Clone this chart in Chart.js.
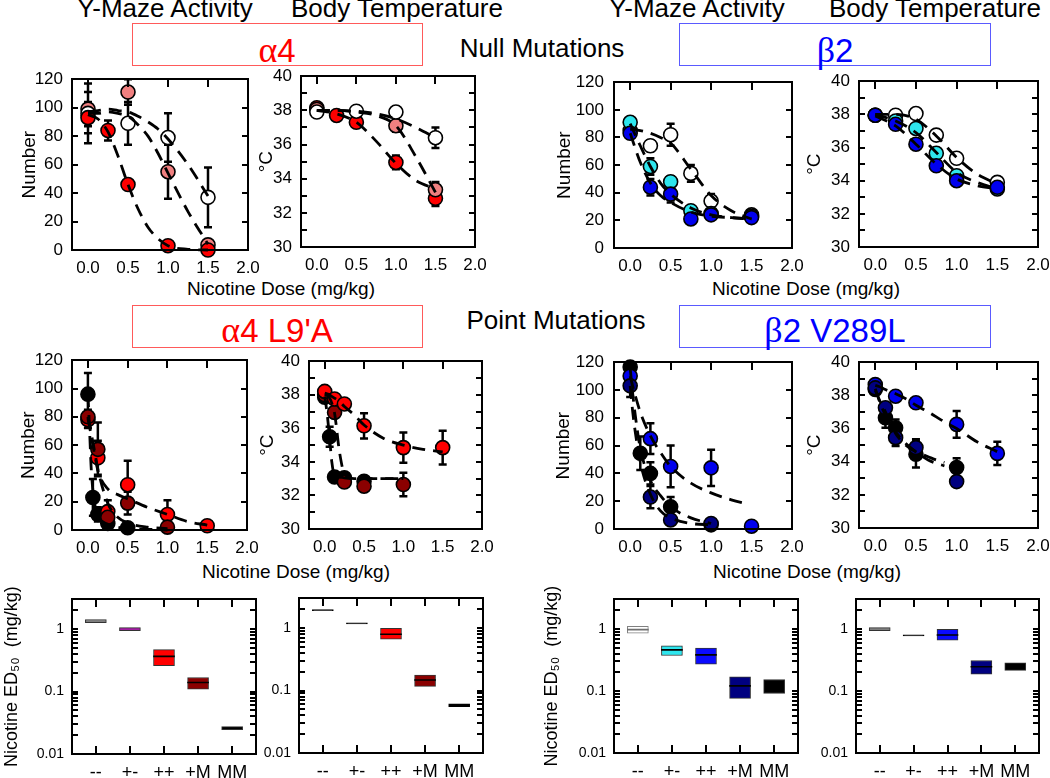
<!DOCTYPE html>
<html>
<head>
<meta charset="utf-8">
<title>Nicotine dose response</title>
<script src="https://cdn.jsdelivr.net/npm/chart.js@4.4.1/dist/chart.umd.min.js"></script>
<style>
  body { margin: 0; width: 1050px; height: 778px; position: relative; overflow: hidden; background: #fff;
         font-family: "Liberation Sans", Arial, sans-serif; color: #000; }
  canvas { position: absolute; }
  .lbl { position: absolute; white-space: nowrap; line-height: 1; transform: translateX(-50%); }
  .head { font-size: 26px; }
  .xt { font-size: 19px; }
  .gene { font-size: 33px; }
  .sym { font-family: "Liberation Serif", "DejaVu Serif", serif; font-size: 36px; }
  .frame { position: absolute; box-sizing: border-box; }
</style>
</head>
<body>
<div class="lbl head" style="left:165px;top:-5px">Y-Maze Activity</div>
<div class="lbl head" style="left:397px;top:-5px">Body Temperature</div>
<div class="lbl head" style="left:697px;top:-5px">Y-Maze Activity</div>
<div class="lbl head" style="left:935px;top:-5px">Body Temperature</div>

<div class="frame" style="left:132px;top:23px;width:291px;height:43px;border:1px solid #ff5a5a"></div>
<div class="frame" style="left:679px;top:23px;width:312px;height:43px;border:1px solid #5a5aff"></div>
<div class="lbl gene" style="left:277px;top:32px;color:#ff0000"><span class="sym">α</span>4</div>
<div class="lbl head" style="left:542px;top:35px">Null Mutations</div>
<div class="lbl gene" style="left:835px;top:32px;color:#0000ff"><span class="sym">β</span>2</div>
<div class="lbl xt" style="left:281px;top:279px">Nicotine Dose (mg/kg)</div>
<div class="lbl xt" style="left:806px;top:279px">Nicotine Dose (mg/kg)</div>

<div class="frame" style="left:132px;top:305px;width:291px;height:43px;border:1px solid #ff5a5a"></div>
<div class="frame" style="left:679px;top:305px;width:312px;height:43px;border:1px solid #5a5aff"></div>
<div class="lbl gene" style="left:277px;top:312px;color:#ff0000"><span class="sym">α</span>4 L9'A</div>
<div class="lbl head" style="left:556px;top:307px">Point Mutations</div>
<div class="lbl gene" style="left:835px;top:312px;color:#0000ff"><span class="sym">β</span>2 V289L</div>
<div class="lbl xt" style="left:296px;top:562px">Nicotine Dose (mg/kg)</div>
<div class="lbl xt" style="left:807px;top:562px">Nicotine Dose (mg/kg)</div>

<script>
// ---------- data ----------
const doseTicks = [0, 0.5, 1.0, 1.5, 2.0];
const numberTicks = [0, 20, 40, 60, 80, 100, 120];
const tempTicks = [30, 31, 32, 33, 34, 35, 36, 37, 38, 39, 40];

// alpha4 null, Y-maze
const p1Dose = [0, 0.25, 0.5, 1.0, 1.5];
const p1Wt = [96, null, 89, 79, 37];
const p1WtErr = [21, null, 15, 17, 21];
const p1Het = [99, null, 111, 55, 3.6];
const p1HetErr = [12, null, 9, 19, 0];
const p1Ko = [93, 84, 46, 3, 0];
const p1KoErr = [11, 7, 0, 0, 0];
const p1FitDose = [0, 0.125, 0.25, 0.375, 0.5, 0.625, 0.75, 0.875, 1.0, 1.25, 1.5];
const p1WtFit = [97, 98, 99, 98, 97, 94, 90, 85, 78, 60, 38];
const p1HetFit = [96, 96, 97, 96, 94, 88, 80, 68, 54, 27, 4];
const p1KoFit = [95, 92, 83, 66, 46, 29, 16, 8, 3, 0.5, 0];

// alpha4 null, body temperature
const p2Dose = [0, 0.25, 0.5, 1.0, 1.5];
const p2Wt = [37.9, null, 37.95, 37.9, 36.4];
const p2WtErr = [0.1, null, 0.1, 0.3, 0.6];
const p2Het = [38.05, null, null, 37.1, 33.35];
const p2HetErr = [0.1, null, null, 0.35, 0.45];
const p2Ko = [38.15, 37.7, 37.3, 34.95, 32.85];
const p2KoErr = [0.1, 0.1, 0.15, 0.4, 0.45];
const p2FitDose = [0, 0.25, 0.5, 0.75, 1.0, 1.25, 1.5];
const p2WtFit = [38.0, 38.0, 37.95, 37.8, 37.5, 37.0, 36.4];
const p2HetFit = [38.0, 38.0, 37.9, 37.7, 37.1, 35.3, 33.2];
const p2KoFit = [38.0, 37.8, 37.3, 36.2, 34.9, 33.9, 33.4];

// beta2 null, Y-maze
const p3Dose = [0, 0.25, 0.5, 0.75, 1.0, 1.5];
const p3Wt = [85, 74, 82, 54, 34, 24];
const p3WtErr = [5, 4, 8, 6, 5, 3];
const p3Het = [91, 59, 48, 27, 25, 23];
const p3HetErr = [3, 6, 4, 3, 3, 2];
const p3Ko = [83, 44, 39, 21, 24, 22];
const p3KoErr = [4, 6, 6, 3, 3, 2];
const p3FitDose = [0, 0.125, 0.25, 0.375, 0.5, 0.75, 1.0, 1.25, 1.5];
const p3WtFit = [86, 85, 83, 80, 76, 57, 38, 27, 21];
const p3HetFit = [90, 74, 59, 47, 39, 29, 24, 22, 21];
const p3KoFit = [83, 62, 47, 38, 33, 26, 23, 22, 21];

// beta2 null, body temperature
const p4Dose = [0, 0.25, 0.5, 0.75, 1.0, 1.5];
const p4Wt = [37.95, 37.95, 38.05, 36.75, 35.35, 33.9];
const p4WtErr = [0.1, 0.15, 0.15, 0.2, 0.2, 0.2];
const p4Het = [37.95, 37.6, 37.15, 35.65, 34.3, 33.5];
const p4HetErr = [0.1, 0.15, 0.15, 0.2, 0.2, 0.2];
const p4Ko = [37.95, 37.4, 36.2, 34.9, 34.0, 33.6];
const p4KoErr = [0.1, 0.15, 0.2, 0.2, 0.25, 0.2];
const p4FitDose = [0, 0.25, 0.5, 0.75, 1.0, 1.25, 1.5];
const p4WtFit = [38.0, 38.0, 37.7, 36.7, 35.4, 34.4, 33.8];
const p4HetFit = [38.0, 37.6, 36.9, 35.7, 34.5, 33.9, 33.5];
const p4KoFit = [37.9, 37.3, 36.2, 35.0, 34.1, 33.7, 33.5];

// alpha4 L9'A, Y-maze
const p5Dose = [0, 0.0625, 0.125, 0.25, 0.5, 1.0, 1.5];
const p5Mm = [96, 23, 11, 4.6, 1.6, null, null];
const p5MmErr = [15, 13, 5, 3, 1, null, null];
const p5Red = [78, null, 51, 13, 32, 11, 3];
const p5RedErr = [6, null, 12, 8, 17, 10, 1];
const p5Dark = [80, null, 57, 9, 19, 2, null];
const p5DarkErr = [5, null, 19, 5, 8, 1, null];
const p5FitDose = [0, 0.02, 0.04, 0.0625, 0.09, 0.125, 0.25, 0.375, 0.5, 0.75, 1.0, 1.25, 1.5];
const p5MmFit = [96, 72, 45, 28, 17, 10, 4, 2, 1, 0.5, 0, null, null];
const p5RedFit = [79, 73, 67, 60, 52, 42, 29, 25, 22, 16, 11, 6, 3.5];
const p5DarkFit = [80, 75, 69, 62, 54, 43, 19, 9, 5, 2, 1, null, null];

// alpha4 L9'A, body temperature
const p6Dose = [0, 0.0625, 0.125, 0.25, 0.5, 1.0, 1.5];
const p6Red = [38.2, null, 37.75, 37.45, 36.15, 34.85, 34.85];
const p6RedErr = [0.1, null, 0.2, 0.15, 0.75, 0.9, 1.0];
const p6Dark = [38.0, null, 36.95, 32.8, 32.55, 32.65, null];
const p6DarkErr = [0.1, null, 0.3, 0.2, 0.3, 0.7, null];
const p6Mm = [37.85, 35.5, 33.1, 33.05, 32.85, null, null];
const p6MmErr = [0.1, 0.6, 0.2, 0.2, 0.2, null, null];
const p6FitDose = [0, 0.03, 0.0625, 0.09, 0.125, 0.1875, 0.25, 0.375, 0.5, 0.75, 1.0, 1.25, 1.5];
const p6RedFit = [38.1, 38.05, 38.0, 37.9, 37.8, 37.6, 37.3, 36.8, 36.2, 35.4, 35.0, 34.75, 34.6];
const p6DarkFit = [38.0, 37.95, 37.8, 37.5, 36.9, 34.6, 33.3, 33.0, 33.0, 33.0, 33.0, null, null];
const p6MmFit = [37.9, 36.9, 35.4, 34.0, 33.2, 33.1, 33.05, 33.0, 33.0, 33.0, 33.0, null, null];

// beta2 V289L, Y-maze
const p7Dose = [0, 0.125, 0.25, 0.5, 1.0, 1.5];
const p7Blue = [110, null, 65, 45, 44, 2];
const p7BlueErr = [8, null, 11, 15, 13, 1];
const p7Mm = [116.5, 54.5, 40, 16, 3, null];
const p7MmErr = [3, 12, 8, 7, 2, null];
const p7Navy = [103, null, 23, 6.5, 4, null];
const p7NavyErr = [8, null, 8, 3, 2, null];
const p7FitDose = [0, 0.03, 0.0625, 0.125, 0.25, 0.375, 0.5, 0.75, 1.0, 1.25, 1.45];
const p7BlueFit = [110, 103, 96, 84, 67, 55, 45, 33, 26, 21, 18];
const p7MmFit = [116, 98, 82, 58, 35, 24, 16, 8, 4, null, null];
const p7NavyFit = [103, 85, 70, 48, 25, 13, 8, 4, 3, null, null];

// beta2 V289L, body temperature
const p8Dose = [0, 0.125, 0.25, 0.5, 1.0, 1.5];
const p8Blue = [38.65, null, 37.95, 37.55, 36.25, 34.5];
const p8BlueErr = [0.1, null, 0.15, 0.15, 0.8, 0.7];
const p8Navy = [38.45, 37.25, 35.45, 34.85, 32.8, null];
const p8NavyErr = [0.1, 0.2, 0.5, 0.5, 0.2, null];
const p8Mm = [38.35, 36.65, 36.05, 34.45, 33.65, null];
const p8MmErr = [0.1, 0.6, 0.5, 0.8, 0.55, null];
const p8FitDose = [0, 0.0625, 0.125, 0.25, 0.375, 0.5, 0.65, 0.75, 0.85, 1.0, 1.25, 1.5];
const p8BlueFit = [38.6, 38.5, 38.35, 38.1, 37.8, 37.4, 37.0, 36.7, 36.4, 36.0, 35.2, 34.6];
const p8MmFit = [38.4, 37.5, 36.8, 35.8, 35.1, 34.6, 34.1, 33.9, 33.75, null, null, null];
const p8NavyFit = [38.3, 37.6, 37.0, 35.7, 35.0, 34.6, 34.3, 34.1, 33.95, null, null, null];

// ED50 panels (box = low..high, line = median)
const genotypes = ['--', '+-', '++', '+M', 'MM'];
const edMajor = [0.01, 0.1, 1];
const edMinorSteps = [2, 3, 4, 5, 6, 7, 8, 9];
const a4YmLo = [1.27, 0.95, 0.26, 0.109, 0.0245];
const a4YmHi = [1.43, 1.06, 0.47, 0.168, 0.0275];
const a4YmMed = [null, null, 0.367, 0.14, null];
const a4TLo = [1.9, 1.17, 0.667, 0.117, 0.0555];
const a4THi = [1.98, 1.22, 0.99, 0.178, 0.0612];
const a4TMed = [null, null, 0.80, 0.148, null];
const b2YmLo = [0.86, 0.374, 0.272, 0.076, 0.091];
const b2YmHi = [1.1, 0.535, 0.49, 0.169, 0.153];
const b2YmMed = [0.975, 0.46, 0.383, 0.121, null];
const b2TLo = [0.94, 0.775, 0.66, 0.186, 0.215];
const b2THi = [1.05, 0.805, 0.99, 0.31, 0.285];
const b2TMed = [null, null, 0.80, 0.246, null];

// ---------- colours ----------
const RED = '#ff0000', PINK = '#f08080', WHITE = '#ffffff', CYAN = '#2ee6ee', BLUE = '#0000ee',
      NAVY = '#000080', MAROON = '#8b0000', BLACK = '#000000', GREY = '#7f7f7f', PURPLE = '#a41ea4';

// ---------- layout (plot areas in page pixels) ----------
const PAD_T = 14, PAD_R = 30, PAD_B = 44, LH = 1.2;
const rects = {
  p1: { l: 72, t: 74, r: 248, b: 250 },  p2: { l: 301, t: 71, r: 475, b: 247 },
  p3: { l: 614, t: 76, r: 792, b: 248 }, p4: { l: 859, t: 76, r: 1038, b: 247 },
  p5: { l: 72, t: 355, r: 247, b: 530 }, p6: { l: 309, t: 356, r: 482, b: 529 },
  p7: { l: 614, t: 356, r: 792, b: 529 }, p8: { l: 859, t: 357, r: 1038, b: 528 },
  p9: { l: 72, t: 597, r: 256, b: 754 }, p10: { l: 299, t: 596, r: 483, b: 753 },
  p11: { l: 614, t: 597, r: 798, b: 753 }, p12: { l: 856, t: 597, r: 1039, b: 753 }
};

Chart.defaults.font.family = '"Liberation Sans", Arial, sans-serif';
Chart.defaults.color = '#000';
Chart.defaults.animation = false;

// frame with inward ticks at the given axis values, drawn under the marks
function frameTicks(xVals, yVals, topLen, bottomLen, sideLen) {
  return {
    id: 'frameTicks',
    afterDraw(chart) {
      const { ctx, chartArea: a } = chart;
      const xs = chart.scales.x, ys = chart.scales.y;
      const L = Math.round(a.left), T = Math.round(a.top), R = Math.round(a.right), B = Math.round(a.bottom);
      ctx.save();
      ctx.fillStyle = '#000';
      xVals.forEach(v => {
        const p = Math.round(xs.getPixelForValue(v));
        if (!(p > L + 2 && p < R - 2)) return;
        if (topLen) ctx.fillRect(p - 1, T, 2, topLen);
        if (bottomLen) ctx.fillRect(p - 1, B - bottomLen, 2, bottomLen);
      });
      yVals.forEach(v => {
        const p = Math.round(ys.getPixelForValue(v));
        if (!(p > T + 2 && p < B - 2)) return;
        ctx.fillRect(L, p - 1, sideLen, 2);
        ctx.fillRect(R - sideLen, p - 1, sideLen, 2);
      });
      ctx.fillRect(L - 1, T - 1, R - L + 2, 2);
      ctx.fillRect(L - 1, B - 1, R - L + 2, 2);
      ctx.fillRect(L - 1, T - 1, 2, B - T + 2);
      ctx.fillRect(R - 1, T - 1, 2, B - T + 2);
      ctx.restore();
    }
  };
}

// +/- error bars from the e field of each point
const errorBars = {
  id: 'errorBars',
  beforeDatasetsDraw(chart) {
    const { ctx, scales: { x, y } } = chart;
    ctx.save();
    ctx.strokeStyle = '#000';
    ctx.lineWidth = 2.5;
    ctx.beginPath();
    chart.data.datasets.forEach(ds => {
      if (ds.type !== 'scatter') return;
      ds.data.forEach(p => {
        if (!p.e) return;
        const px = x.getPixelForValue(p.x);
        const lo = y.getPixelForValue(p.y - p.e), hi = y.getPixelForValue(p.y + p.e);
        ctx.moveTo(px, lo); ctx.lineTo(px, hi);
        ctx.moveTo(px - 4, lo); ctx.lineTo(px + 4, lo);
        ctx.moveTo(px - 4, hi); ctx.lineTo(px + 4, hi);
      });
    });
    ctx.stroke();
    ctx.restore();
  }
};

function makeCanvas(r, padL) {
  const cv = document.createElement('canvas');
  const w = r.r - r.l + padL + PAD_R, h = r.b - r.t + PAD_T + PAD_B;
  cv.width = w; cv.height = h;
  cv.style.left = (r.l - padL) + 'px';
  cv.style.top = (r.t - PAD_T) + 'px';
  cv.style.width = w + 'px';
  cv.style.height = h + 'px';
  document.body.appendChild(cv);
  return cv;
}

function doseChart(r, o) {
  const lh = 19 * LH;
  const padL = Math.max(62, Math.round(r.l - o.titleX + 13));
  const cv = makeCanvas(r, padL);
  const datasets = [];
  o.fits.forEach(([dose, ys]) => datasets.push({
    type: 'line',
    data: dose.map((d, i) => ({ x: d, y: ys[i] })),
    borderColor: '#000', borderWidth: 2.8, borderDash: [13, 8],
    pointRadius: 0, cubicInterpolationMode: 'monotone', order: 0, clip: false
  }));
  o.series.forEach(([dose, ys, es, col]) => datasets.push({
    type: 'scatter',
    data: dose.map((d, i) => ({ x: d, y: ys[i], e: es[i] })).filter(p => p.y != null),
    backgroundColor: col, pointBackgroundColor: col, pointBorderColor: '#000',
    pointBorderWidth: 1.6, pointRadius: 7, order: 1, clip: false
  }));
  return new Chart(cv, {
    type: 'scatter',
    data: { datasets },
    options: {
      responsive: false,
      layout: { padding: { left: 0, top: PAD_T, right: PAD_R, bottom: 0 } },
      plugins: { legend: { display: false }, tooltip: { enabled: false } },
      scales: {
        x: {
          type: 'linear', min: -0.2, max: 2.0, bounds: 'data', offset: false,
          grid: { display: false, drawTicks: false }, border: { display: false },
          afterBuildTicks: s => { s.ticks = doseTicks.map(v => ({ value: v })); },
          afterFit: s => { s.height = PAD_B; },
          ticks: { autoSkip: false, maxRotation: 0, padding: 8, font: { size: 17 }, callback: v => v.toFixed(1) }
        },
        y: {
          type: 'linear', min: o.yMin, max: o.yMax, bounds: 'data',
          grid: { display: false, drawTicks: false }, border: { display: false },
          afterBuildTicks: s => { s.ticks = o.yTicks.map(v => ({ value: v })); },
          afterFit: s => { s.width = padL; },
          ticks: { autoSkip: false, padding: o.tickPad, font: { size: 17 }, callback: o.yLab },
          title: { display: true, text: o.title, font: { size: 19 },
                   padding: { top: o.titleX - (r.l - padL) - lh / 2, bottom: 0 } }
        }
      }
    },
    plugins: [errorBars, frameTicks(doseTicks, o.yTicks, 8, 0, 6)]
  });
}

function edChart(r, o) {
  const lh = 18 * LH;
  const padL = o.title ? Math.max(62, Math.round(r.l - o.titleX + 13)) : 62;
  const cv = makeCanvas(r, padL);
  const ticks = edMajor.concat(edMajor.slice(0, 2).flatMap(d => edMinorSteps.map(m => m * d)), [2]);
  const medColor = o.medColor || genotypes.map(() => '#000');
  return new Chart(cv, {
    type: 'bar',
    data: {
      datasets: [
        {
          data: o.med.map((m, i) => (m == null ? null : { x: i, y: [m / 1.018, m * 1.018] })).filter(Boolean),
          backgroundColor: c => (c.raw ? medColor[c.raw.x] : '#000'),
          borderWidth: 0, grouped: false, barThickness: 21, order: 0
        },
        {
          data: o.lo.map((v, i) => ({ x: i, y: [v, o.hi[i]] })),
          backgroundColor: o.fill, borderColor: o.edge, borderWidth: 1, borderSkipped: false,
          grouped: false, barThickness: 21, order: 1
        }
      ]
    },
    options: {
      responsive: false,
      layout: { padding: { left: 0, top: PAD_T, right: PAD_R, bottom: 0 } },
      plugins: { legend: { display: false }, tooltip: { enabled: false } },
      scales: {
        x: {
          type: 'linear', min: -0.7, max: 4.7, bounds: 'data', offset: false,
          grid: { display: false, drawTicks: false }, border: { display: false },
          afterBuildTicks: s => { s.ticks = genotypes.map((g, i) => ({ value: i })); },
          afterFit: s => { s.height = PAD_B; },
          ticks: { autoSkip: false, maxRotation: 0, padding: 8, font: { size: 18 }, callback: v => genotypes[v] }
        },
        y: {
          type: 'logarithmic', min: 0.01, max: 3, bounds: 'data',
          grid: { display: false, drawTicks: false }, border: { display: false },
          afterBuildTicks: s => { s.ticks = ticks.map(v => ({ value: v })); },
          afterFit: s => { s.width = padL; },
          ticks: { autoSkip: false, padding: 8, font: { size: 14 }, callback: v => (edMajor.includes(v) ? String(v) : '') },
          title: { display: !!o.title, text: o.title || '', font: { size: 18 },
                   padding: { top: o.title ? o.titleX - (r.l - padL) - lh / 2 : 0, bottom: 0 } }
        }
      }
    },
    plugins: [frameTicks(genotypes.map((g, i) => i), ticks, 8, 8, 6)]
  });
}

const numLab = v => String(v);
const tempLab = v => (v % 2 === 0 ? String(v) : '');
const numAxis = { yMin: 0, yMax: 120, yTicks: numberTicks, yLab: numLab, title: 'Number' };
const tempAxis = { yMin: 30, yMax: 40, yTicks: tempTicks, yLab: tempLab, title: '°C' };

doseChart(rects.p1, Object.assign({}, numAxis, { titleX: 30, tickPad: 9,
  series: [[p1Dose, p1Ko, p1KoErr, RED], [p1Dose, p1Wt, p1WtErr, WHITE], [p1Dose, p1Het, p1HetErr, PINK]],
  fits: [[p1FitDose, p1WtFit], [p1FitDose, p1HetFit], [p1FitDose, p1KoFit]] }));
doseChart(rects.p2, Object.assign({}, tempAxis, { titleX: 267, tickPad: 9,
  series: [[p2Dose, p2Wt, p2WtErr, WHITE], [p2Dose, p2Het, p2HetErr, PINK], [p2Dose, p2Ko, p2KoErr, RED]],
  fits: [[p2FitDose, p2WtFit], [p2FitDose, p2HetFit], [p2FitDose, p2KoFit]] }));
doseChart(rects.p3, Object.assign({}, numAxis, { titleX: 565, tickPad: 10,
  series: [[p3Dose, p3Ko, p3KoErr, BLUE], [p3Dose, p3Het, p3HetErr, CYAN], [p3Dose, p3Wt, p3WtErr, WHITE]],
  fits: [[p3FitDose, p3WtFit], [p3FitDose, p3HetFit], [p3FitDose, p3KoFit]] }));
doseChart(rects.p4, Object.assign({}, tempAxis, { titleX: 815, tickPad: 9,
  series: [[p4Dose, p4Ko, p4KoErr, BLUE], [p4Dose, p4Het, p4HetErr, CYAN], [p4Dose, p4Wt, p4WtErr, WHITE]],
  fits: [[p4FitDose, p4WtFit], [p4FitDose, p4HetFit], [p4FitDose, p4KoFit]] }));
doseChart(rects.p5, Object.assign({}, numAxis, { titleX: 29, tickPad: 9,
  series: [[p5Dose, p5Dark, p5DarkErr, MAROON], [p5Dose, p5Red, p5RedErr, RED], [p5Dose, p5Mm, p5MmErr, BLACK]],
  fits: [[p5FitDose, p5MmFit], [p5FitDose, p5RedFit], [p5FitDose, p5DarkFit]] }));
doseChart(rects.p6, Object.assign({}, tempAxis, { titleX: 268, tickPad: 9,
  series: [[p6Dose, p6Red, p6RedErr, RED], [p6Dose, p6Dark, p6DarkErr, MAROON], [p6Dose, p6Mm, p6MmErr, BLACK]],
  fits: [[p6FitDose, p6RedFit], [p6FitDose, p6DarkFit], [p6FitDose, p6MmFit]] }));
doseChart(rects.p7, Object.assign({}, numAxis, { titleX: 564, tickPad: 10,
  series: [[p7Dose, p7Navy, p7NavyErr, NAVY], [p7Dose, p7Blue, p7BlueErr, BLUE], [p7Dose, p7Mm, p7MmErr, BLACK]],
  fits: [[p7FitDose, p7BlueFit], [p7FitDose, p7MmFit], [p7FitDose, p7NavyFit]] }));
doseChart(rects.p8, Object.assign({}, tempAxis, { titleX: 815, tickPad: 9,
  series: [[p8Dose, p8Navy, p8NavyErr, NAVY], [p8Dose, p8Mm, p8MmErr, BLACK], [p8Dose, p8Blue, p8BlueErr, BLUE]],
  fits: [[p8FitDose, p8BlueFit], [p8FitDose, p8MmFit], [p8FitDose, p8NavyFit]] }));

const edTitle = 'Nicotine ED\u2085\u2080  (mg/kg)';
edChart(rects.p9, { title: edTitle, titleX: 12, lo: a4YmLo, hi: a4YmHi, med: a4YmMed,
  fill: [GREY, PURPLE, RED, MAROON, BLACK], edge: ['#333', '#333', '#333', '#333', '#333'] });
edChart(rects.p10, { lo: a4TLo, hi: a4THi, med: a4TMed,
  fill: [BLACK, BLACK, RED, MAROON, BLACK], edge: ['#000', '#000', '#333', '#333', '#000'] });
edChart(rects.p11, { title: edTitle, titleX: 552, lo: b2YmLo, hi: b2YmHi, med: b2YmMed,
  fill: [WHITE, CYAN, '#0a0aff', NAVY, BLACK], edge: ['#808080', '#333', '#333', '#333', '#333'],
  medColor: ['#707070', '#000', '#000', '#000', '#000'] });
edChart(rects.p12, { lo: b2TLo, hi: b2THi, med: b2TMed,
  fill: [GREY, BLACK, '#0a0aff', NAVY, BLACK], edge: ['#333', '#000', '#333', '#333', '#333'] });
</script>
</body>
</html>
